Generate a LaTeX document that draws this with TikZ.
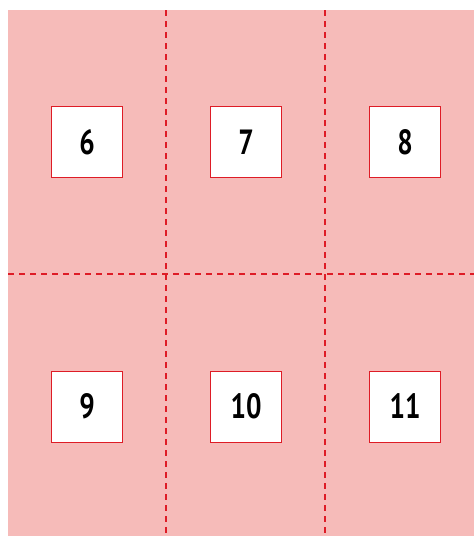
\documentclass[tikz,border=0pt]{standalone}
\usepackage{fontspec}
\setmainfont{PT Sans}
\definecolor{panelpink}{RGB}{246,187,185}
\definecolor{linered}{RGB}{222,28,38}
\begin{document}
\begin{tikzpicture}[x=1pt,y=-1pt,
  cellbox/.style={draw=linered,line width=1pt,fill=white,minimum width=71pt,minimum height=71pt,inner sep=0pt,
    font=\fontsize{35}{35}\selectfont\bfseries},
  divider/.style={draw=linered,line width=2pt,dash pattern=on 6pt off 5pt}]
\useasboundingbox (0,0) rectangle (474,536);
\fill[panelpink] (8,10) rectangle (474,536);
\draw[divider] (166,10) -- (166,536);
\draw[divider] (325,10) -- (325,536);
\draw[divider] (8,274) -- (474,274);
\node[cellbox] (n6) at (87,142) {\scalebox{0.78}[1]{6}};
\node[cellbox] (n7) at (246,142) {\scalebox{0.78}[1]{7}};
\node[cellbox] (n8) at (405,142) {\scalebox{0.78}[1]{8}};
\node[cellbox] (n9) at (87,406.5) {\scalebox{0.78}[1]{9}};
\node[cellbox] (n10) at (246,406.5) {\scalebox{0.78}[1]{10}};
\node[cellbox] (n11) at (405,406.5) {\scalebox{0.78}[1]{11}};
\end{tikzpicture}
\end{document}
